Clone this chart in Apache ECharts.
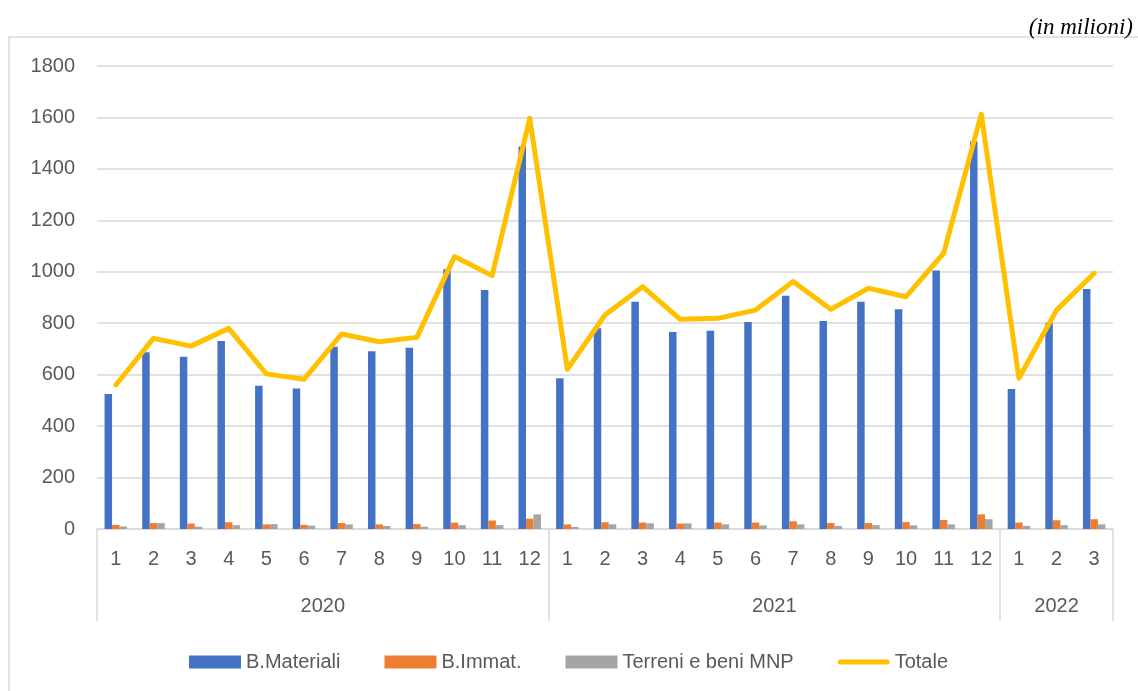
<!DOCTYPE html>
<html>
<head>
<meta charset="utf-8">
<script src="https://cdn.jsdelivr.net/npm/echarts@6.0.0/dist/echarts.min.js"></script>
<style>
  html, body { margin: 0; padding: 0; background: #fff; }
  #chart { width: 1138px; height: 691px; }
</style>
</head>
<body>
<div id="chart"></div>
<script>
// tick labels
var years = ['2020', '2021', '2022'];
var monthsPerYear = [12, 12, 3];
var months = ['1','2','3','4','5','6','7','8','9','10','11','12',
              '1','2','3','4','5','6','7','8','9','10','11','12',
              '1','2','3'];

// series values (milioni)
var materiali = [525, 687, 670, 731, 557, 546, 709, 691, 705, 1010, 929, 1487,
                 586, 780, 883, 766, 771, 805, 907, 809, 883, 854, 1005, 1506,
                 544, 800, 933];
var immat = [16, 23, 21, 26, 18, 16, 23, 18, 19, 25, 33, 40,
             18, 26, 25, 21, 25, 25, 30, 23, 23, 27, 35, 57,
             25, 34, 38];
var terreni = [10, 23, 9, 15, 19, 13, 18, 12, 9, 15, 15, 57,
               8, 18, 22, 22, 18, 14, 18, 12, 15, 14, 18, 38,
               12, 15, 18];
var totale = [560, 741, 711, 780, 603, 582, 758, 728, 745, 1059, 985, 1597,
              621, 832, 942, 815, 819, 851, 962, 854, 936, 903, 1072, 1613,
              586, 851, 994];

// category keys + year boundaries / mid points for the 2nd level axis
var categories = [];
var bounds = [0];
var mids = [];
var pos = 0;
years.forEach(function (y, i) {
    mids.push(pos + monthsPerYear[i] / 2);
    pos += monthsPerYear[i];
    bounds.push(pos);
});
for (var i = 0; i < months.length; i++) categories.push(i + '_' + months[i]);

var txt = '#595959';
var grey = '#d9d9d9';
var font = 'Liberation Sans';

var chart = echarts.init(document.getElementById('chart'));
chart.setOption({
    animation: false,
    textStyle: { fontFamily: font },
    graphic: [{
        type: 'rect',
        shape: { x: 9, y: 37, width: 1200, height: 700 },
        style: { fill: 'none', stroke: grey, lineWidth: 1.5 },
        silent: true
    }],
    title: {
        text: '(in milioni)',
        right: 0,
        top: 11,
        textStyle: { fontFamily: 'Liberation Serif', fontStyle: 'italic', fontWeight: 'normal', fontSize: 23, color: '#000' }
    },
    grid: { left: 97, right: 25, top: 66, bottom: 162 },
    legend: {
        left: 184,
        top: 647,
        itemWidth: 52,
        itemHeight: 13,
        itemGap: 44,
        textStyle: { color: txt, fontSize: 20, fontFamily: font },
        data: [
            { name: 'B.Materiali', icon: 'rect' },
            { name: 'B.Immat.', icon: 'rect' },
            { name: 'Terreni e beni MNP', icon: 'rect' },
            { name: 'Totale', icon: 'path://M2.5,0 L49.5,0 A2.5,2.5 0 0 1 49.5,5 L2.5,5 A2.5,2.5 0 0 1 2.5,0 Z' }
        ]
    },
    xAxis: [{
        type: 'category',
        position: 'bottom',
        data: categories,
        axisLine: { lineStyle: { color: grey, width: 1.5 } },
        axisTick: { show: false },
        axisLabel: {
            color: txt, fontSize: 20, margin: 20, interval: 0,
            formatter: function (v) { return v.split('_')[1]; }
        }
    }, {
        type: 'value',
        position: 'bottom',
        min: 0,
        max: months.length,
        axisLine: { show: false },
        splitLine: { show: false },
        axisTick: {
            show: true, length: 92, customValues: bounds,
            lineStyle: { color: grey, width: 1.5 }
        },
        axisLabel: {
            color: txt, fontSize: 20, margin: 67,
            customValues: mids,
            formatter: function (v) {
                var k = mids.indexOf(v);
                return k >= 0 ? years[k] : '';
            }
        }
    }],
    yAxis: {
        type: 'value',
        min: 0,
        max: 1800,
        interval: 200,
        axisLine: { show: false },
        axisTick: { show: false },
        axisLabel: {
            color: txt, fontSize: 20, margin: 22,
            formatter: function (v) { return String(v); }
        },
        splitLine: { lineStyle: { color: grey, width: 1.5 } }
    },
    series: [{
        name: 'B.Materiali',
        type: 'bar',
        xAxisIndex: 0,
        barWidth: 7.5,
        barGap: '0%',
        itemStyle: { color: '#4472c4' },
        data: materiali
    }, {
        name: 'B.Immat.',
        type: 'bar',
        xAxisIndex: 0,
        barWidth: 7.5,
        barGap: '0%',
        itemStyle: { color: '#ed7d31' },
        data: immat
    }, {
        name: 'Terreni e beni MNP',
        type: 'bar',
        xAxisIndex: 0,
        barWidth: 7.5,
        barGap: '0%',
        itemStyle: { color: '#a5a5a5' },
        data: terreni
    }, {
        name: 'Totale',
        type: 'line',
        xAxisIndex: 0,
        symbol: 'none',
        z: 5,
        itemStyle: { color: '#ffc000' },
        lineStyle: { color: '#ffc000', width: 5, cap: 'round', join: 'round' },
        data: totale
    }]
});
</script>
</body>
</html>
